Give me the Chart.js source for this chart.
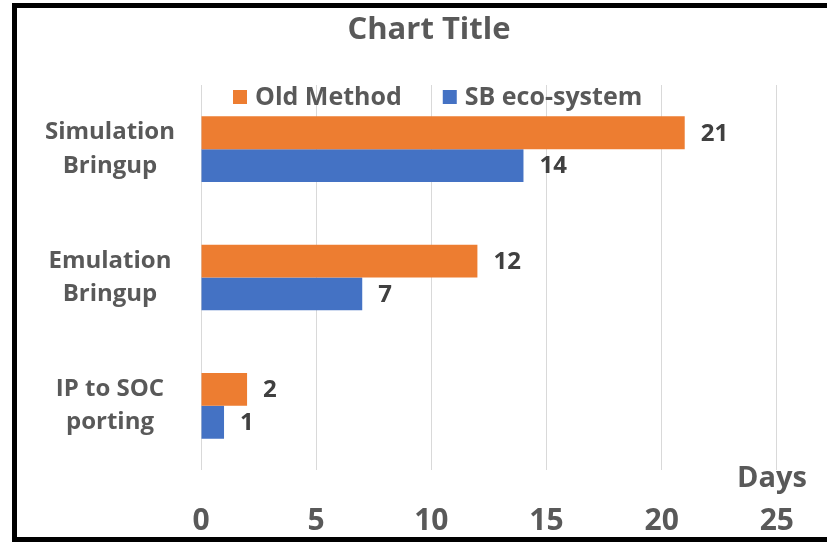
<!DOCTYPE html>
<html><head><meta charset="utf-8">
<script src="https://cdn.jsdelivr.net/npm/chart.js@4"></script>
<style>
html,body{margin:0;padding:0;background:#fff;overflow:hidden}
#wrap{position:relative;width:827px;height:545px}
#frame{position:absolute;left:12px;top:3px;width:900px;height:529px;border:5px solid #000;pointer-events:none}
canvas{position:absolute;left:0;top:0}
</style></head><body>
<div id="wrap"><canvas id="c" width="827" height="545"></canvas><div id="frame"></div></div>
<script>
const categories = [["Simulation","Bringup"],["Emulation","Bringup"],["IP to SOC","porting"]];
const oldMethod = [21, 12, 2];
const sbEco = [14, 7, 1];
const seriesNames = ["Old Method", "SB eco-system"];
const seriesColors = ["#ED7D31", "#4472C4"];
const xTicks = [0, 5, 10, 15, 20, 25];
const xTitle = "Days";
const chartTitle = "Chart Title";

const FONT = '"Open Sans", "DejaVu Sans", sans-serif';
const GRAY = '#595959';

const extras = {
  id: 'extras',
  afterDatasetsDraw(chart) {
    const ctx = chart.ctx;
    ctx.save();
    ctx.font = 'bold 24px ' + FONT;
    ctx.fillStyle = '#404040';
    ctx.textAlign = 'left';
    ctx.textBaseline = 'middle';
    chart.data.datasets.forEach((ds, i) => {
      chart.getDatasetMeta(i).data.forEach((el, j) => {
        ctx.fillText(String(ds.data[j]), el.x + 16, el.y + 1);
      });
    });
    ctx.restore();
  },
  afterDraw(chart) {
    const ctx = chart.ctx;
    const area = chart.chartArea;
    ctx.save();
    // title
    ctx.font = 'bold 31px ' + FONT;
    ctx.fillStyle = GRAY;
    ctx.textAlign = 'center';
    ctx.textBaseline = 'middle';
    ctx.fillText(chartTitle, 429, 30);
    // legend
    ctx.font = 'bold 25px ' + FONT;
    ctx.textAlign = 'left';
    let x = 233;
    const y = 97;
    chart.data.datasets.forEach((ds) => {
      ctx.fillStyle = ds.backgroundColor;
      ctx.fillRect(x, y - 7, 14, 14);
      ctx.fillStyle = GRAY;
      ctx.fillText(ds.label, x + 22, y + 1);
      x += 22 + ctx.measureText(ds.label).width + 41;
    });
    // axis title
    ctx.font = 'bold 29px ' + FONT;
    ctx.textAlign = 'right';
    ctx.fillText(xTitle, area.right + 30, area.bottom + 9);
    ctx.restore();
  }
};

new Chart(document.getElementById('c'), {
  type: 'bar',
  data: {
    labels: categories,
    datasets: [
      { label: seriesNames[0], data: oldMethod, backgroundColor: seriesColors[0] },
      { label: seriesNames[1], data: sbEco, backgroundColor: seriesColors[1] }
    ]
  },
  options: {
    indexAxis: 'y',
    responsive: false,
    animation: false,
    devicePixelRatio: 1,
    categoryPercentage: 0.512,
    barPercentage: 1,
    layout: { padding: { left: 0, right: 49, top: 85, bottom: 0 } },
    plugins: {
      legend: { display: false },
      tooltip: { enabled: false },
      title: { display: false }
    },
    scales: {
      x: {
        min: 0, max: 25,
        afterBuildTicks: s => { s.ticks = xTicks.map(v => ({ value: v })); },
        afterFit: s => { s.height = 75; },
        grid: { color: '#d9d9d9', lineWidth: 1, drawTicks: false },
        border: { display: false },
        ticks: { color: GRAY, padding: 33, font: { family: FONT, size: 30, weight: 'bold', lineHeight: 1.2 } }
      },
      y: {
        afterFit: s => { s.width = 201; },
        grid: { display: false, drawTicks: false },
        border: { display: false },
        ticks: { color: GRAY, padding: 26, crossAlign: 'center', font: { family: FONT, size: 24, weight: 'bold', lineHeight: 1.4 } }
      }
    }
  },
  plugins: [extras]
});
</script>
</body></html>
